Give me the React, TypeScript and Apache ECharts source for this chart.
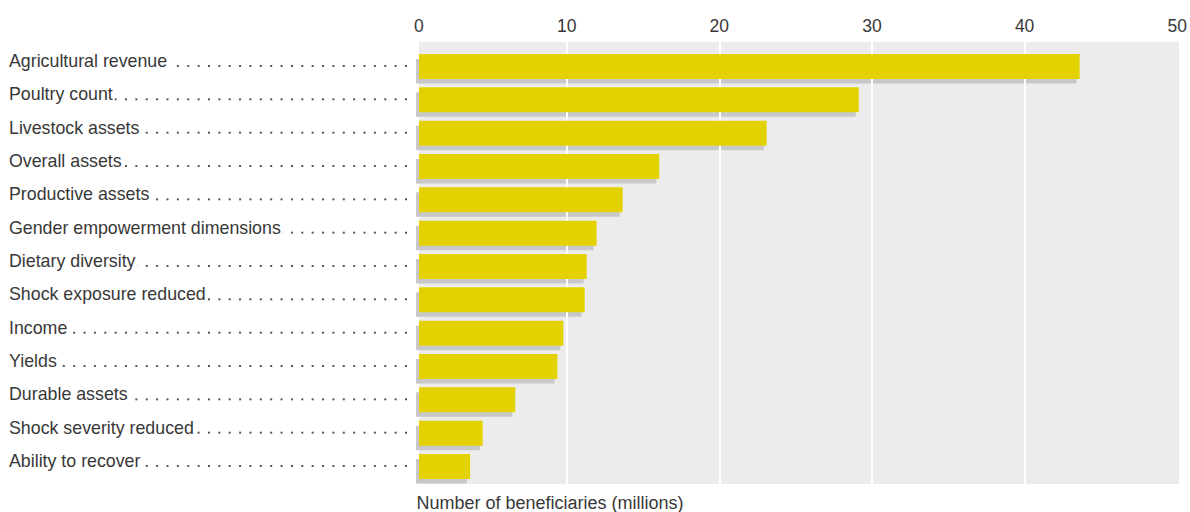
import React, { useEffect, useRef } from "react";
import * as echarts from "echarts";

const categories = [
  "Agricultural revenue",
  "Poultry count",
  "Livestock assets",
  "Overall assets",
  "Productive assets",
  "Gender empowerment dimensions",
  "Dietary diversity",
  "Shock exposure reduced",
  "Income",
  "Yields",
  "Durable assets",
  "Shock severity reduced",
  "Ability to recover",
];
const beneficiaries = [43.45, 29.03, 23.02, 16.01, 13.62, 11.92, 11.27, 11.14, 9.75, 9.36, 6.61, 4.48, 3.66];
const xMin = 0;
const xMax = 50;
const xInterval = 10;
const axisTitle = "Number of beneficiaries (millions)";

const FONT = "'Liberation Sans', Arial, Helvetica, sans-serif";
const TEXT = "#383838";
const YELLOW = "#e4d200";
const SHADOW = "#c8c8c8";
const GREY = "#ececec";
const DOT_COUNT = 34;
const DOT_STEP = 10.37;

export default function App() {
  const ref = useRef<HTMLDivElement>(null);

  useEffect(() => {
    if (!ref.current) return;
    const chart = echarts.init(ref.current, undefined, { renderer: "svg" });
    const data = categories.map((_, i) => [i, beneficiaries[i]]);

    const shadowRender = (_params: any, api: any) => {
      const i = api.value(0);
      const v = api.value(1);
      const s = api.coord([0, i]);
      const e = api.coord([v, i]);
      const cy = s[1];
      const dots: any[] = [];
      for (let k = 0; k < DOT_COUNT; k++) {
        dots.push({
          type: "rect",
          shape: { x: s[0] - 9 - k * DOT_STEP, y: cy - 3.5, width: 2, height: 2 },
          style: { fill: "#555555" },
        });
      }
      return {
        type: "group",
        children: [
          ...dots,
          {
            type: "rect",
            shape: { x: s[0] + 2, y: cy - 9.5, width: e[0] - s[0] - 5, height: 24.5 },
            style: { fill: SHADOW },
          },
        ],
      };
    };

    const barRender = (_params: any, api: any) => {
      const i = api.value(0);
      const v = api.value(1);
      const s = api.coord([0, i]);
      const e = api.coord([v, i]);
      const cy = s[1];
      return {
        type: "rect",
        shape: { x: s[0] + 5, y: cy - 14.5, width: e[0] - s[0] - 5, height: 25 },
        style: { fill: YELLOW },
      };
    };

    chart.setOption({
      animation: false,
      title: {
        text: axisTitle,
        left: 416.5,
        top: 493.5,
        padding: 0,
        textStyle: { fontSize: 18, fontWeight: "normal", color: TEXT, fontFamily: FONT },
      },
      graphic: [
        {
          type: "rect",
          z: -10,
          left: 419,
          top: 42,
          shape: { width: 760, height: 442 },
          style: { fill: GREY },
        },
      ],
      grid: [
        { left: 414, right: 10, top: 51.83, bottom: 26.83 },
        { left: 414, right: 10, top: 42, bottom: 28 },
      ],
      xAxis: [
        { type: "value", gridIndex: 0, min: xMin, max: xMax, interval: xInterval, show: false },
        {
          type: "value",
          gridIndex: 1,
          position: "top",
          min: xMin,
          max: xMax,
          interval: xInterval,
          axisLine: { show: false },
          axisTick: { show: false },
          axisLabel: {
            fontSize: 17.5,
            color: TEXT,
            fontFamily: FONT,
            margin: 16,
            verticalAlign: "middle",
            alignMinLabel: "left",
          },
          splitLine: {
            show: true,
            showMinLine: false,
            showMaxLine: false,
            lineStyle: { color: "#ffffff", width: 2 },
          },
        },
      ],
      yAxis: [
        {
          type: "category",
          gridIndex: 0,
          data: categories,
          inverse: true,
          z: 5,
          axisLine: { show: false },
          axisTick: { show: false },
          splitLine: { show: false },
          axisLabel: {
            interval: 0,
            align: "left",
            verticalAlign: "bottom",
            lineHeight: 15,
            margin: 405,
            fontSize: 17.8,
            color: TEXT,
            fontFamily: FONT,
            backgroundColor: "#ffffff",
            padding: [0, 2, 0, 0],
          },
        },
        { type: "value", gridIndex: 1, show: false },
      ],
      series: [
        {
          type: "custom",
          xAxisIndex: 0,
          yAxisIndex: 0,
          z: -5,
          clip: false,
          renderItem: shadowRender,
          encode: { x: 1, y: 0 },
          data,
        },
        {
          type: "custom",
          xAxisIndex: 0,
          yAxisIndex: 0,
          z: 2,
          clip: false,
          renderItem: barRender,
          encode: { x: 1, y: 0 },
          data,
        },
      ],
    });

    return () => chart.dispose();
  }, []);

  return (
    <div
      ref={ref}
      style={{ position: "fixed", left: 0, top: 0, width: 1190, height: 512, background: "#fff" }}
    />
  );
}
